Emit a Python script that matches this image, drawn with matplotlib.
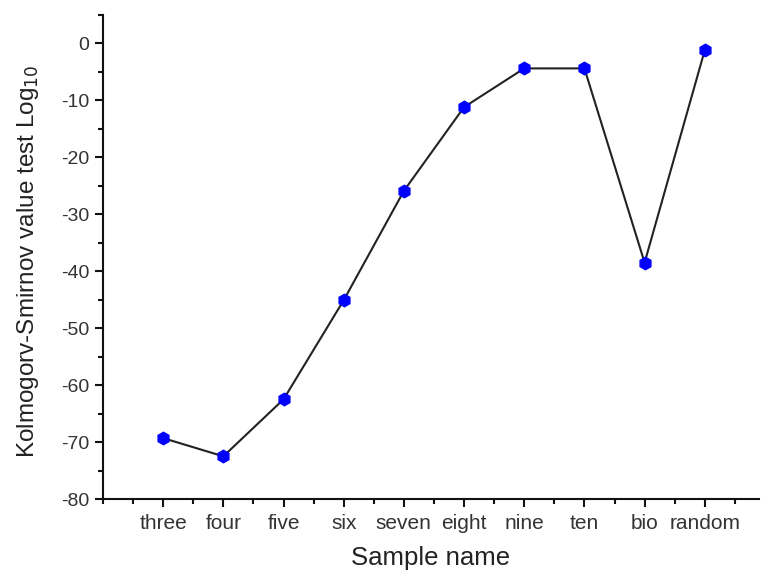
import numpy as np
import matplotlib.pyplot as plt
from matplotlib.ticker import MultipleLocator

plt.rcParams['font.family'] = ['Liberation Sans', 'DejaVu Sans']
plt.rcParams['axes.unicode_minus'] = False

# Sample data
samples = ['three', 'four', 'five', 'six', 'seven', 'eight', 'nine', 'ten', 'bio', 'random']
ks_log10 = [-69.3, -72.5, -62.5, -45.1, -25.9, -11.2, -4.4, -4.4, -38.5, -1.2]

x = np.arange(1, len(samples) + 1)

fig = plt.figure(figsize=(7.61, 5.71), dpi=100)
ax = fig.add_axes([0.1353, 0.126, 0.862, 0.848])

ax.plot(x, ks_log10, color='#222222', linewidth=1.5, marker='h', markersize=9,
        markerfacecolor='#0000ff', markeredgecolor='#0000ff')

ax.set_xlim(0, 10.9)
ax.set_ylim(-80, 5)
ax.set_xticks(x)
ax.set_xticklabels(samples)
ax.xaxis.set_minor_locator(MultipleLocator(0.5))
ax.yaxis.set_major_locator(MultipleLocator(10))
ax.yaxis.set_minor_locator(MultipleLocator(5))

for s in ['top', 'right']:
    ax.spines[s].set_visible(False)
for s in ['left', 'bottom']:
    ax.spines[s].set_linewidth(1.5)
    ax.spines[s].set_color('#111111')

ax.tick_params(which='major', direction='out', length=6, width=1.5,
               colors='#111111', labelcolor='#333333')
ax.tick_params(which='minor', direction='out', length=3.5, width=1.5, colors='#111111')
ax.tick_params(axis='x', which='major', pad=5, labelsize=15)
ax.tick_params(axis='y', which='major', pad=4, labelsize=14)

ax.set_xlabel('Sample name', fontsize=18.5, labelpad=9, color='#222222')
ax.set_ylabel('Kolmogorv-Smirnov value test Log$_{10}$', fontsize=17.5, color='#222222')
ax.yaxis.set_label_coords(-0.095, 0.49)

fig.savefig('out.png', dpi=100)
